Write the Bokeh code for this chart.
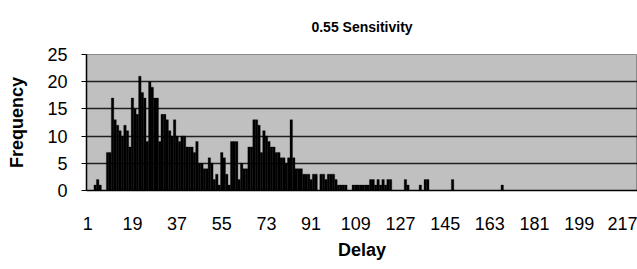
from bokeh.plotting import figure
from bokeh.models import FixedTicker, ColumnDataSource
from bokeh.embed import file_html
from bokeh.resources import INLINE

# ---- data ----
title_text = "0.55 Sensitivity"
x_label = "Delay"
y_label = "Frequency"
x_tick_values = [1, 19, 37, 55, 73, 91, 109, 127, 145, 163, 181, 199, 217]
y_tick_values = [0, 5, 10, 15, 20, 25]

delays = list(range(1, 223))
frequency = [
    0, 0, 0, 1, 2, 1, 0, 0, 7, 7,            # 1-10
    17, 13, 12, 11, 10, 12, 11, 8, 17, 15,   # 11-20
    14, 21, 18, 17, 9, 20, 19, 17, 17, 9,    # 21-30
    14, 14, 13, 11, 10, 13, 10, 9, 10, 10,   # 31-40
    8, 8, 8, 7, 9, 5, 5, 4, 4, 6,            # 41-50
    5, 2, 3, 1, 7, 6, 3, 1, 9, 9,            # 51-60
    9, 2, 5, 4, 4, 8, 8, 13, 13, 12,         # 61-70
    7, 11, 10, 9, 8, 8, 7, 7, 6, 6,          # 71-80
    5, 6, 13, 6, 4, 4, 4, 3, 3, 3,           # 81-90
    2, 3, 3, 0, 3, 3, 2, 3, 3, 3,            # 91-100
    2, 1, 1, 1, 1, 0, 0, 1, 1, 1,            # 101-110
    1, 1, 1, 1, 2, 2, 1, 2, 1, 2,            # 111-120
    1, 2, 2, 0, 0, 0, 0, 0, 2, 1,            # 121-130
    0, 0, 0, 0, 1, 0, 2, 2, 0, 0,            # 131-140
    0, 0, 0, 0, 0, 0, 0, 2, 0, 0,            # 141-150
    0, 0, 0, 0, 0, 0, 0, 0, 0, 0,            # 151-160
    0, 0, 0, 0, 0, 0, 0, 1, 0, 0,            # 161-170
    0, 0, 0, 0, 0, 0, 0, 0, 0, 0,            # 171-180
    0, 0, 0, 0, 0, 0, 0, 0, 0, 0,            # 181-190
    0, 0, 0, 0, 0, 0, 0, 0, 0, 0,            # 191-200
    0, 0, 0, 0, 0, 0, 0, 0, 0, 0,            # 201-210
    0, 0, 0, 0, 0, 0, 0, 0, 0, 0,            # 211-220
    0, 0,                                    # 221-222
]

source = ColumnDataSource(data=dict(delay=delays, freq=frequency))

p = figure(
    width=637, height=269,
    x_range=(0.5, len(delays) + 0.5), y_range=(0, 25),
    output_backend="svg", toolbar_location=None,
    title=title_text,
    min_border_left=86, min_border_right=0, min_border_top=51, min_border_bottom=79,
)

p.vbar(x="delay", top="freq", width=1.0, source=source,
       fill_color="black", line_color="black", line_width=0.3)

# background / frame
p.background_fill_color = "#C0C0C0"
p.border_fill_color = "white"
p.outline_line_color = "#8a8a8a"
p.outline_line_width = 1

# title
p.title.text_font = "Liberation Sans"
p.title.text_font_size = "14px"
p.title.text_font_style = "bold"
p.title.text_color = "black"
p.title.align = "center"
p.title.vertical_align = "top"
p.title.standoff = 36

# grids
p.xgrid.visible = False
p.ygrid.ticker = FixedTicker(ticks=[5, 10, 15, 20])
p.ygrid.grid_line_color = "#202020"
p.ygrid.grid_line_width = 1.5

# y axis
p.yaxis.ticker = FixedTicker(ticks=y_tick_values)
p.yaxis.axis_label = y_label
p.yaxis.axis_label_text_font = "Liberation Sans"
p.yaxis.axis_label_text_font_size = "18px"
p.yaxis.axis_label_text_font_style = "bold"
p.yaxis.axis_label_text_color = "black"
p.yaxis.axis_label_standoff = 17
p.yaxis.major_label_text_font = "Liberation Sans"
p.yaxis.major_label_text_font_size = "18px"
p.yaxis.major_label_text_color = "black"
p.yaxis.major_tick_out = 5
p.yaxis.major_tick_in = 0
p.yaxis.minor_tick_line_color = None
p.yaxis.major_label_standoff = 14
p.yaxis.axis_line_color = "black"
p.yaxis.axis_line_width = 1.5
p.yaxis.major_tick_line_color = "black"

# x axis
p.xaxis.ticker = FixedTicker(ticks=x_tick_values)
p.xaxis.axis_label = x_label
p.xaxis.axis_label_text_font = "Liberation Sans"
p.xaxis.axis_label_text_font_size = "18px"
p.xaxis.axis_label_text_font_style = "bold"
p.xaxis.axis_label_text_color = "black"
p.xaxis.axis_label_standoff = 7
p.xaxis.major_label_text_font = "Liberation Sans"
p.xaxis.major_label_text_font_size = "18px"
p.xaxis.major_label_text_color = "black"
p.xaxis.major_tick_line_color = None
p.xaxis.minor_tick_line_color = None
p.xaxis.major_label_standoff = 20
p.xaxis.axis_line_color = "black"
p.xaxis.axis_line_width = 1.5

open("out.html", "w").write(file_html(p, INLINE))
